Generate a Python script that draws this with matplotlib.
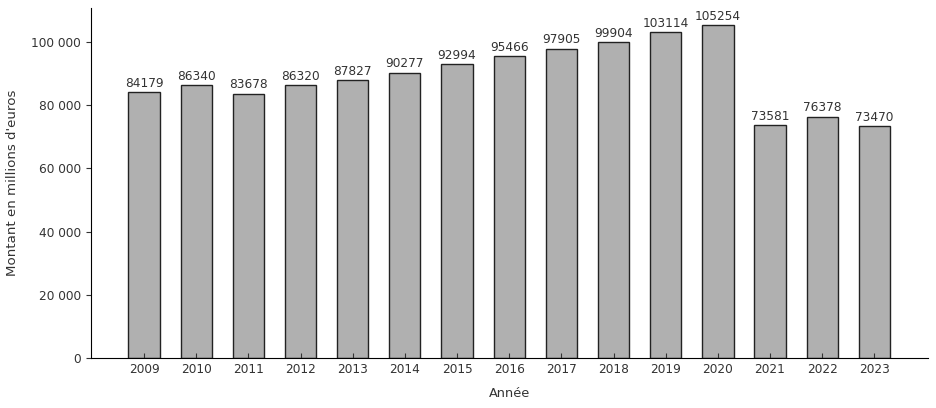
import numpy as np
import matplotlib.pyplot as plt
from matplotlib.ticker import FuncFormatter

annees = ['2009', '2010', '2011', '2012', '2013', '2014', '2015', '2016',
          '2017', '2018', '2019', '2020', '2021', '2022', '2023']
montants = [84179, 86340, 83678, 86320, 87827, 90277, 92994, 95466,
            97905, 99904, 103114, 105254, 73581, 76378, 73470]

plt.rcParams['font.family'] = ['DejaVu Sans']
plt.rcParams['text.color'] = '#333333'
plt.rcParams['axes.labelcolor'] = '#333333'
plt.rcParams['xtick.color'] = '#333333'
plt.rcParams['ytick.color'] = '#333333'

fig = plt.figure(figsize=(9.36, 4.08), dpi=100)
ax = fig.add_axes([0.097, 0.1225, 0.894, 0.8575])

x = np.arange(len(annees))
ax.bar(x, montants, width=0.6, color='#b0b0b0', edgecolor='#222222', linewidth=1.0)

# valeurs au-dessus des barres
for xi, v in zip(x, montants):
    ax.text(xi, v + 700, str(v), ha='center', va='bottom', fontsize=8.7)

ax.set_xticks(x)
ax.set_xticklabels(annees)
ax.set_xlim(-1.02, len(annees) - 1 + 1.02)
ax.set_ylim(0, 110700)
ax.set_yticks([0, 20000, 40000, 60000, 80000, 100000])
ax.yaxis.set_major_formatter(FuncFormatter(lambda v, p: f'{int(v):,}'.replace(',', ' ')))
ax.tick_params(axis='x', direction='in', labelsize=8.7)
ax.tick_params(axis='y', direction='out', labelsize=8.7)

ax.spines['top'].set_visible(False)
ax.spines['right'].set_visible(False)

ax.set_xlabel('Année', fontsize=9.3, labelpad=8)
ax.set_ylabel("Montant en millions d'euros", fontsize=9.6, labelpad=9)

plt.savefig('out.png', dpi=100)
